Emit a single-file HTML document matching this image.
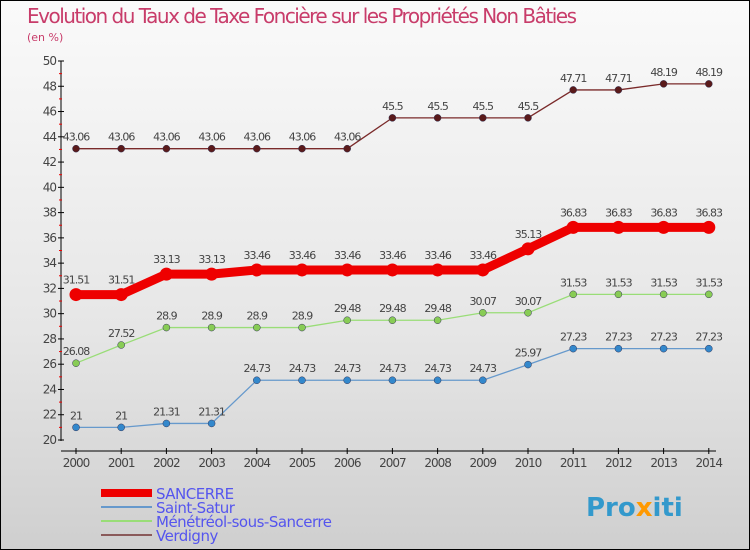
<!DOCTYPE html>
<html><head><meta charset="utf-8"><style>
body{margin:0}
#wrap{width:748px;height:548px;border:1px solid #000;background:linear-gradient(#fafafa,#e6e6e6 60%,#cfcfcf);position:relative;overflow:hidden;font-family:"DejaVu Sans","Liberation Sans",sans-serif}
text{font-family:"DejaVu Sans","Liberation Sans",sans-serif}
</style></head><body>
<div id="wrap">
<svg id="svg" width="748" height="548">
<text x="26" y="22" font-size="20" fill="#c83c6a" textLength="550">Evolution du Taux de Taxe Foncière sur les Propriétés Non Bâties</text>
<text x="26" y="40" font-size="11" fill="#c83c6a">(en %)</text>
<g id="axes"></g><g id="series"></g><g id="legend"></g>
<text x="585" y="515" font-size="26" font-weight="bold" fill="#3399cc">Pro<tspan fill="#ff9900">x</tspan>iti</text>
</svg></div>
<script>
const years=[2000,2001,2002,2003,2004,2005,2006,2007,2008,2009,2010,2011,2012,2013,2014];
const sancerre=[31.51,31.51,33.13,33.13,33.46,33.46,33.46,33.46,33.46,33.46,35.13,36.83,36.83,36.83,36.83];
const saintSatur=[21,21,21.31,21.31,24.73,24.73,24.73,24.73,24.73,24.73,25.97,27.23,27.23,27.23,27.23];
const menetreol=[26.08,27.52,28.9,28.9,28.9,28.9,29.48,29.48,29.48,30.07,30.07,31.53,31.53,31.53,31.53];
const verdigny=[43.06,43.06,43.06,43.06,43.06,43.06,43.06,45.5,45.5,45.5,45.5,47.71,47.71,48.19,48.19];
const yTicks=[20,22,24,26,28,30,32,34,36,38,40,42,44,46,48,50];
const names=["SANCERRE","Saint-Satur","Ménétréol-sous-Sancerre","Verdigny"];
const NS="http://www.w3.org/2000/svg";
const xs=i=>75+i*45.2;
const ys=v=>439-(v-20)*(379/30);
function mk(tag,attrs,parent,txt){const e=document.createElementNS(NS,tag);for(const k in attrs)e.setAttribute(k,attrs[k]);if(txt!==undefined)e.textContent=txt;parent.appendChild(e);return e;}
const ax=document.getElementById('axes');
let a=mk('line',{x1:60,y1:60,x2:60,y2:440,stroke:'#000'},ax);


a=mk('line',{x1:60,y1:450,x2:715,y2:450,stroke:'#000'},ax);


yTicks.forEach(v=>{const y=ys(v);mk('line',{x1:57,y1:y,x2:63,y2:y,stroke:'#000'},ax);
 if(v<50)mk('line',{x1:58,y1:ys(v+1),x2:61,y2:ys(v+1),stroke:'#e00'},ax);
 const t=mk('text',{x:55,y:y+4,'font-size':12,fill:'#444','text-anchor':'end','letter-spacing':'-1'},ax,v);
 
 });
years.forEach((yr,i)=>{const x=xs(i);mk('line',{x1:x,y1:447,x2:x,y2:453,stroke:'#000'},ax);
 const t=mk('text',{x:x,y:466,'font-size':12,fill:'#444','text-anchor':'middle','letter-spacing':'-1'},ax,yr);
 
 });
const sg=document.getElementById('series');
const defs=[[verdigny,'#7a2a2a','#5a1a1a',1.3,3.5,'verdigny'],[menetreol,'#99dd77','#88cc55',1.3,3.5,'menetreol'],[saintSatur,'#6699cc','#3388cc',1.3,3.5,'saint-satur'],[sancerre,'#ee0000','#ee0000',9,6.5,'sancerre']];
defs.forEach(([data,lc,pc,w,r,nm])=>{
 const g=mk('g',{},sg);
 
 
 const pts=data.map((v,i)=>xs(i)+','+ys(v)).join(' ');
 const l=mk('polyline',{points:pts,fill:'none',stroke:lc,'stroke-width':w},g);
 
 
 data.forEach((v,i)=>{
  const c=mk('circle',{cx:xs(i),cy:ys(v),r:r,fill:pc,stroke:nm==='sancerre'?'none':'#335','stroke-width':0.5},g);
  
  
  const t=mk('text',{x:xs(i),y:ys(v)-(nm==='sancerre'?11:8),'font-size':11,fill:'#444','text-anchor':'middle','letter-spacing':'-1'},g,v);
  
  
 });
});
const lg=document.getElementById('legend');
const lc=[['#ee0000',8],['#6699cc',2],['#99dd77',2],['#8a5a5a',2]];
names.forEach((n,i)=>{const y=492+i*14;
 const s=mk('line',{x1:100,y1:y,x2:151,y2:y,stroke:lc[i][0],'stroke-width':lc[i][1]},lg);
 
 
 const t=mk('text',{x:155,y:y+6,'font-size':15,fill:'#5555ee','letter-spacing':'-0.5'},lg,n);
 
 });
</script>
</body></html>
